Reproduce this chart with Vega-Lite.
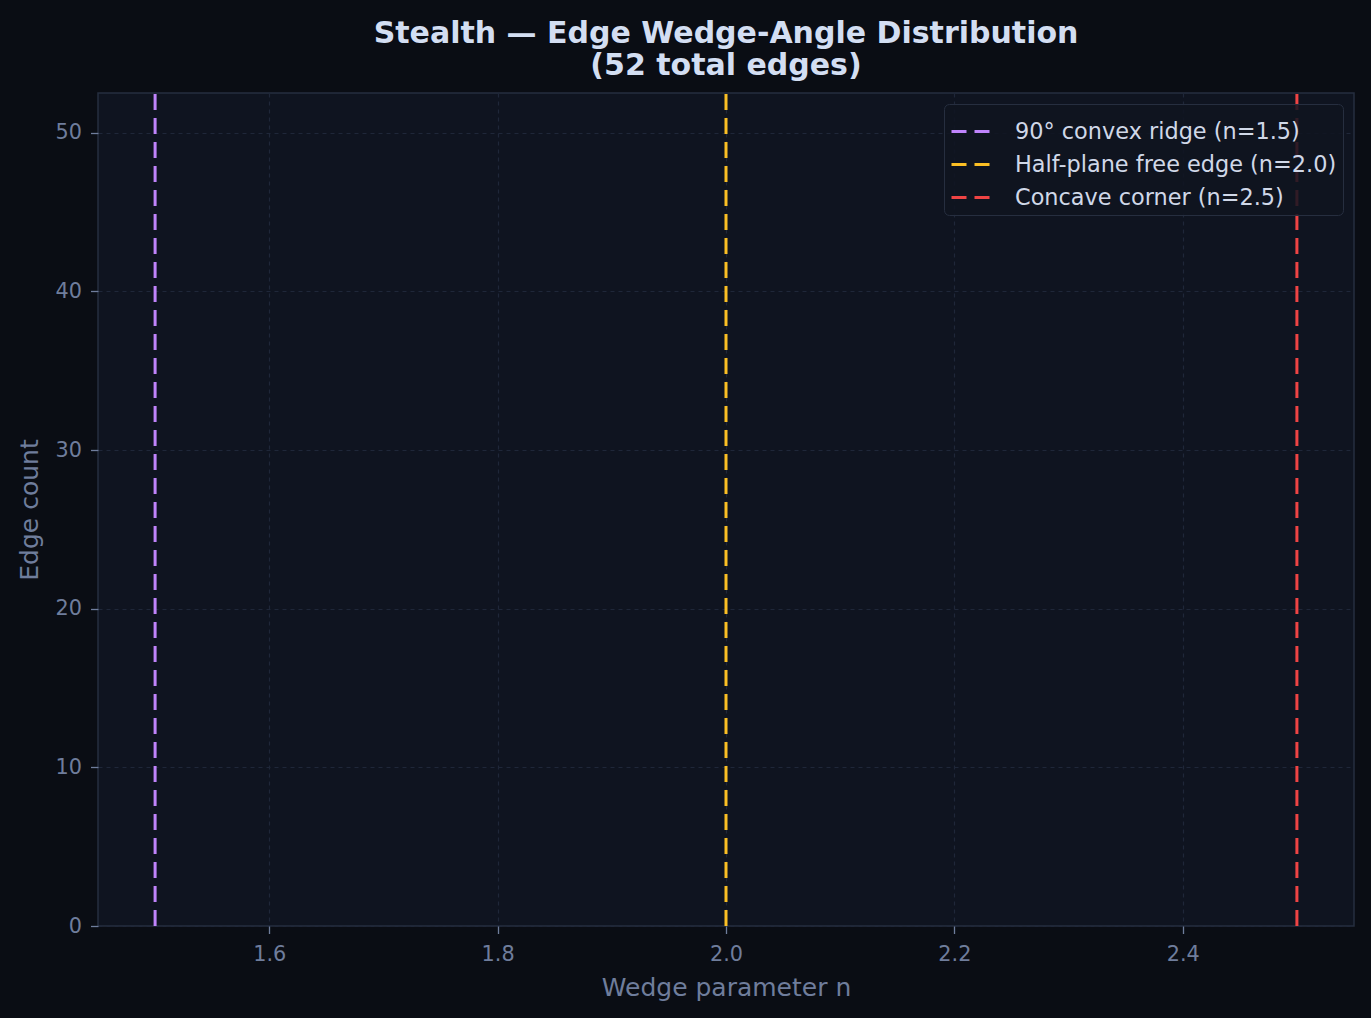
{
  "$schema": "https://vega.github.io/schema/vega-lite/v6.json",
  "description": "Edge wedge-angle distribution with reference lines",
  "background": "#0a0d14",
  "autosize": "none",
  "padding": {"left": 98, "top": 93, "right": 17, "bottom": 92},
  "width": 1256,
  "height": 833,
  "title": {
    "text": ["Stealth \u2014 Edge Wedge-Angle Distribution", "(52 total edges)"],
    "font": "DejaVu Sans",
    "fontSize": 30,
    "fontWeight": "bold",
    "color": "#d3def2",
    "lineHeight": 32,
    "offset": 11,
    "anchor": "middle"
  },
  "config": {
    "font": "DejaVu Sans",
    "view": {"fill": "#0f1420", "stroke": "#262e3f", "strokeWidth": 1.5}
  },
  "data": {
    "values": [
      {"n": 1.5, "label": "90\u00b0 convex ridge (n=1.5)"},
      {"n": 2.0, "label": "Half-plane free edge (n=2.0)"},
      {"n": 2.5, "label": "Concave corner (n=2.5)"}
    ]
  },
  "mark": {"type": "rule", "strokeWidth": 3, "strokeDash": [16, 8]},
  "encoding": {
    "x": {
      "field": "n",
      "type": "quantitative",
      "scale": {"domain": [1.45, 2.55], "nice": false, "zero": false},
      "axis": {
        "title": "Wedge parameter n",
        "values": [1.6, 1.8, 2.0, 2.2, 2.4],
        "format": ".1f",
        "domain": false,
        "labelFont": "DejaVu Sans",
        "labelFontSize": 20.8,
        "labelColor": "#6f7d9c",
        "labelPadding": 11,
        "tickColor": "#6f7d9c",
        "tickSize": 7.5,
        "tickWidth": 1.3,
        "grid": true,
        "gridColor": "#1f2739",
        "gridDash": [4, 4],
        "gridWidth": 1.2,
        "titleFont": "DejaVu Sans",
        "titleFontSize": 25,
        "titleFontWeight": "normal",
        "titleColor": "#6f7d9c",
        "titlePadding": 11
      }
    },
    "y": {
      "datum": 0,
      "type": "quantitative",
      "scale": {"domain": [0, 52.5], "nice": false},
      "axis": {
        "title": "Edge count",
        "values": [0, 10, 20, 30, 40, 50],
        "domain": false,
        "labelFont": "DejaVu Sans",
        "labelFontSize": 20.8,
        "labelColor": "#6f7d9c",
        "labelPadding": 9,
        "tickColor": "#6f7d9c",
        "tickSize": 7.5,
        "tickWidth": 1.3,
        "grid": true,
        "gridColor": "#1f2739",
        "gridDash": [4, 4],
        "gridWidth": 1.2,
        "titleFont": "DejaVu Sans",
        "titleFontSize": 25,
        "titleFontWeight": "normal",
        "titleColor": "#6f7d9c",
        "titlePadding": 13
      }
    },
    "y2": {"datum": 52.5},
    "color": {
      "field": "label",
      "type": "nominal",
      "sort": null,
      "scale": {"range": ["#c084fc", "#fbbf24", "#ef4444"]},
      "legend": {
        "title": null,
        "orient": "top-right",
        "offset": 11,
        "padding": 6,
        "fillColor": "rgba(15,20,32,0.85)",
        "strokeColor": "#262e3f",
        "cornerRadius": 5,
        "symbolType": "stroke",
        "symbolSize": 1600,
        "symbolStrokeWidth": 3,
        "symbolDash": [15, 8],
        "labelFont": "DejaVu Sans",
        "labelFontSize": 22.4,
        "labelColor": "#d0d8e8",
        "labelLimit": 500,
        "labelOffset": 22,
        "rowPadding": 0
      }
    }
  }
}
